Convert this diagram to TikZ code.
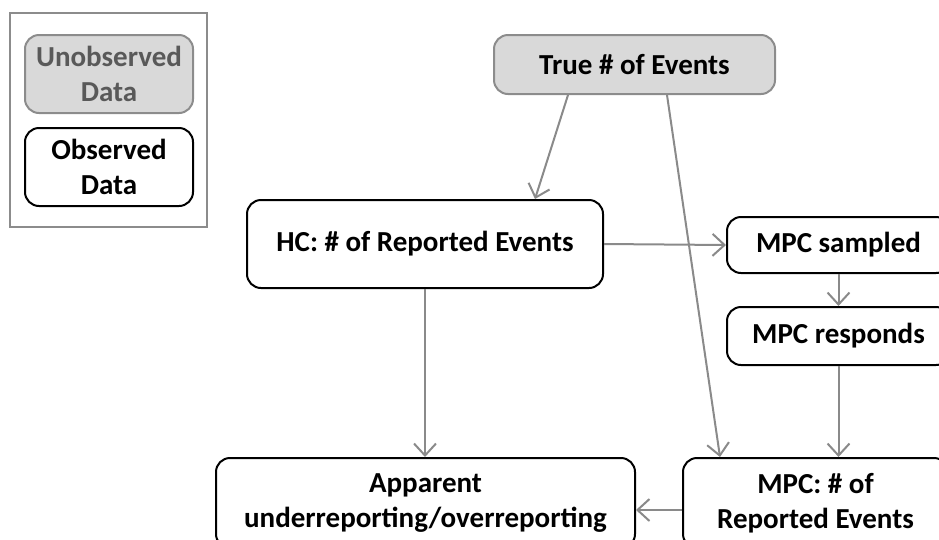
\documentclass[tikz,border=0pt]{standalone}
\usepackage{fontspec}
\setmainfont{Carlito}
\usetikzlibrary{arrows.meta}
\definecolor{arrgray}{RGB}{138,138,138}
\definecolor{boxgray}{RGB}{217,217,217}
\definecolor{bordgray}{RGB}{140,140,140}
\definecolor{txtgray}{RGB}{89,89,89}
\tikzset{
  box/.style={draw=black, line width=2pt, rounded corners=14pt, fill=white,
    inner sep=0pt, align=center, font=\fontsize{29}{35}\selectfont\bfseries},
  graybox/.style={box, draw=bordgray, fill=boxgray},
  conn/.style={draw=arrgray, line width=2pt, -{Straight Barb[length=12pt,width=22pt,line width=2pt]}},
}
\begin{document}
\begin{tikzpicture}[x=1pt,y=-1pt]
\useasboundingbox (0,0) rectangle (939,539);
\clip (0,0) rectangle (939,539);
% legend
\node[draw=bordgray, line width=2.5pt, minimum width=197pt, minimum height=214pt, inner sep=0pt] (legend) at (108.5,120) {};
\node[graybox, text=txtgray, minimum width=168pt, minimum height=78pt] (unobs) at (109,74) {Unobserved\\Data};
\node[box, minimum width=168pt, minimum height=78pt] (obs) at (109,167) {Observed\\Data};
% main nodes
\node[graybox, minimum width=281pt, minimum height=59pt] (true) at (634.5,64.5) {True \# of Events};
\node[box, minimum width=356pt, minimum height=88pt] (hc) at (425,244) {HC: \# of Reported Events};
\node[box, minimum width=223pt, minimum height=56pt] (samp) at (838.5,245) {MPC sampled};
\node[box, minimum width=223pt, minimum height=58pt] (resp) at (838.5,336) {MPC responds};
\node[box, minimum width=265pt, minimum height=90pt] (mpcrep) at (815.5,503) {MPC: \# of\\Reported Events};
\node[box, minimum width=419pt, minimum height=90pt] (app) at (425.5,503) {Apparent\\underreporting/overreporting};
% connectors
\draw[conn] ([xshift=-66.5pt]true.south) -- ([xshift=110pt]hc.north);
\draw[conn] ([xshift=32.5pt]true.south) -- ([xshift=38pt]mpcrep.north west);
\draw[conn] (hc.east) -- (samp.west);
\draw[conn] (samp.south) -- (resp.north);
\draw[conn] (resp.south) -- (resp.south |- mpcrep.north);
\draw[conn] (hc.south) -- (hc.south |- app.north);
\draw[conn] ([yshift=-7pt]mpcrep.west) -- ([yshift=-7pt]app.east);
\end{tikzpicture}
\end{document}
